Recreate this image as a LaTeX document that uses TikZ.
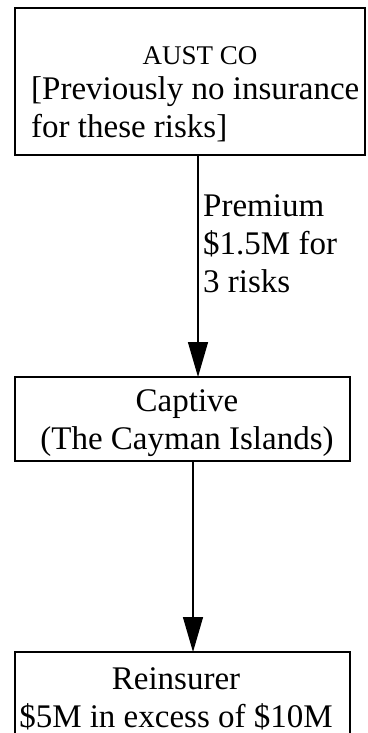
\documentclass[tikz,border=0pt]{standalone}
\usepackage{fontspec}
\setmainfont{Liberation Serif}
\usetikzlibrary{arrows.meta,positioning}
\tikzset{
  box/.style={draw, line width=1.8pt, inner sep=0pt, outer sep=0pt},
  flow/.style={-{Triangle[length=35pt,width=20pt]}, line width=1.4pt},
  big/.style={font=\fontsize{33}{38}\selectfont, inner sep=0pt},
}
\begin{document}
\begin{tikzpicture}[x=1pt, y=1pt]
\useasboundingbox (0,0) rectangle (367,-733);
% the three boxes
\node[box, minimum width=350pt, minimum height=147pt] (aust) at (190,-81.5) {};
\node[box, minimum width=335pt, minimum height=84pt] (captive) at (182.5,-419) {};
\node[box, minimum width=335pt, minimum height=150pt] (reins) at (182.5,-727) {};
% texts (base = last line)
\node[font=\fontsize{27}{32}\selectfont, inner sep=0pt, anchor=base] (austname) at (200,-65) {AUST CO};
\node[big, align=left, anchor=base west] (austnote) at (31,-138) {[Previously no insurance\\for these risks]};
\node[big, align=center, anchor=base] (captivetext) at (187,-449) {Captive\\(The Cayman Islands)};
\node[big, align=center, anchor=base] (reinstext) at (176,-727) {Reinsurer\\\$5M in excess of \$10M};
% arrows
\draw[flow] ([xshift=8pt]aust.south) -- ([xshift=15.5pt]captive.north);
\node[big, align=left, anchor=base west] (premlabel) at (203,-292) {Premium\\\$1.5M for\\3 risks};
\draw[flow] ([xshift=10.5pt]captive.south) -- ([xshift=10.5pt]reins.north);
\end{tikzpicture}
\end{document}
